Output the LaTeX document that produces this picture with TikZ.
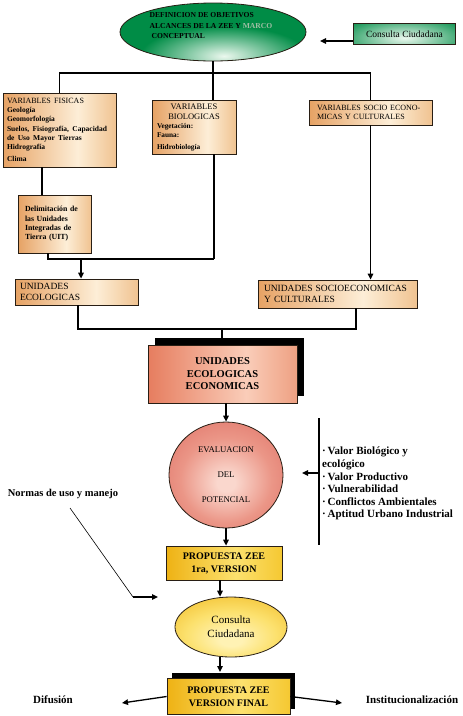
\documentclass[tikz,border=0pt]{standalone}
\usepackage{fontspec}
\setmainfont{Liberation Serif}
\usetikzlibrary{arrows.meta,shapes.geometric,shadows,calc}
\definecolor{gD}{RGB}{0,140,70}
\definecolor{gL}{RGB}{235,248,238}
\definecolor{tanD}{RGB}{230,162,100}
\definecolor{tanL}{RGB}{253,238,215}
\definecolor{tanM}{RGB}{240,195,145}
\definecolor{salD}{RGB}{230,125,95}
\definecolor{salL}{RGB}{250,205,185}
\definecolor{salM}{RGB}{238,160,130}
\definecolor{cirD}{RGB}{218,100,90}
\definecolor{cirM}{RGB}{235,150,135}
\definecolor{cirL}{RGB}{250,215,205}
\definecolor{yelD}{RGB}{238,178,20}
\definecolor{yelL}{RGB}{252,225,110}
\definecolor{yelM}{RGB}{245,200,50}
\definecolor{yelR}{RGB}{255,242,180}
\definecolor{border}{RGB}{40,30,20}
\definecolor{marco}{RGB}{160,190,165}
\pgfdeclarehorizontalshading{tanshade}{100bp}{color(0bp)=(tanD); color(25bp)=(tanD); color(58bp)=(tanL); color(75bp)=(tanM); color(100bp)=(tanM)}
\pgfdeclarehorizontalshading{salshade}{100bp}{color(0bp)=(salD); color(25bp)=(salD); color(58bp)=(salL); color(75bp)=(salM); color(100bp)=(salM)}
\pgfdeclarehorizontalshading{yelshade}{100bp}{color(0bp)=(yelD); color(25bp)=(yelD); color(55bp)=(yelL); color(75bp)=(yelM); color(100bp)=(yelM)}
\pgfdeclareradialshading{cirrad}{\pgfpoint{0bp}{-4bp}}{color(0bp)=(cirL); color(4bp)=(cirL); color(20bp)=(cirM); color(42bp)=(cirD); color(50bp)=(cirD)}
\pgfdeclareradialshading{yelrad}{\pgfpoint{0bp}{-12bp}}{color(0bp)=(yelR); color(5bp)=(yelR); color(20bp)=(yelL); color(42bp)=(yelD); color(50bp)=(yelD)}
\newcommand\fsz[2]{\fontsize{#1}{#2}\selectfont}
\begin{document}
\begin{tikzpicture}[x=1pt,y=-1pt,
  conn/.style={line width=1.3pt,black},
  arr/.style={conn,-{Triangle[length=6pt,width=5.5pt]}},
  thinline/.style={line width=0.6pt,black},
  boxbase/.style={rectangle,draw=border,line width=0.8pt,inner ysep=2pt},
  tanbox/.style={boxbase,shading=tanshade},
  ellbase/.style={ellipse,draw=border,line width=0.8pt,inner sep=0pt},
  bigshadow/.style={drop shadow={shadow xshift=7pt,shadow yshift=7pt,fill=black,opacity=1}}
]
\fill[white] (0,0) rectangle (463,716);
\useasboundingbox (0,0) rectangle (463,716);

% top ellipse: dark green with a light patch at the bottom centre
\begin{scope}
  \clip (213,32) ellipse [x radius=93pt,y radius=29pt];
  \fill[gD] (100,0) rectangle (330,70);
  \shade[inner color=gL,outer color=gD] (224,56) ellipse [x radius=84pt,y radius=30pt];
\end{scope}
\node[ellbase,minimum width=186pt,minimum height=58pt] (def) at (213,32) {};
\node[font=\bfseries\fsz{7.6}{10.5},align=left] (deftxt) at (211,26)
  {DEFINICION DE OBJETIVOS\\ALCANCES DE LA ZEE Y \textcolor{marco}{MARCO}\\\hspace{2pt}CONCEPTUAL};

% consulta ciudadana box
\begin{scope}
  \clip (353.5,23.5) rectangle (455.5,44.5);
  \fill[gD] (353.5,23.5) rectangle (455.5,44.5);
  \shade[inner color=gL,outer color=gD] (404.5,38) ellipse [x radius=75pt,y radius=24pt];
\end{scope}
\node[boxbase,minimum width=102pt,minimum height=21pt,font=\fsz{9.5}{11}] (cc) at (404.5,34) {Consulta Ciudadana};
\coordinate (ccend) at (320,41);
\draw[arr] (cc.west |- ccend) -- (ccend);

% variables boxes
\node[tanbox,minimum width=113pt,minimum height=74pt,text width=105pt,inner xsep=4pt,align=left] (fis) at (59.5,130)
  {\fsz{8}{9.3}VARIABLES FISICAS\\\bfseries\fsz{7.5}{9.3}Geología\\Geomorfología\\Suelos, Fisiografía, Capacidad\\de Uso Mayor Tierras\\Hidrografía\\Clima};
\node[tanbox,minimum width=84pt,minimum height=54pt,text width=74pt,inner xsep=5pt] (bio) at (194,127)
  {{\centering\fsz{8.5}{10}VARIABLES\\BIOLOGICAS\par}\raggedright\bfseries\fsz{7.3}{9}Vegetación:\\Fauna:\\Hidrobiología};
\node[tanbox,minimum width=123pt,minimum height=25pt,text width=107pt,inner xsep=8pt,align=left,font=\fsz{8}{9}] (soc) at (370.5,112.5)
  {VARIABLES SOCIO ECONO-\\MICAS Y CULTURALES};

\coordinate (j0) at (213,73);
\draw[conn] (def.south) -- (j0);
\draw[conn] (fis.north) |- (j0) -| (soc.north);
\draw[conn] (j0) -- (j0 |- bio.north);

% UIT
\node[tanbox,minimum width=73pt,minimum height=58pt,text width=59pt,inner xsep=7pt,align=left,font=\bfseries\fsz{7.8}{9.3}] (uit) at (54.5,224)
  {Delimitación de\\las Unidades\\Integradas de\\Tierra (UIT)};
\draw[conn] ([xshift=-17.5pt]fis.south) -- ([xshift=-17.5pt]fis.south |- uit.north);

% unidades
\node[tanbox,minimum width=123pt,minimum height=26pt,text width=113pt,inner xsep=5pt,align=left,font=\fsz{9.5}{11}] (eco) at (76.5,292)
  {UNIDADES\\ECOLOGICAS};
\node[tanbox,minimum width=159pt,minimum height=28pt,text width=147pt,inner xsep=6pt,align=left,font=\fsz{9.5}{11.5}] (socu) at (337.5,294)
  {UNIDADES SOCIOECONOMICAS\\Y CULTURALES};

\coordinate (j1) at (214,259);
\draw[conn] ([xshift=-6.5pt]uit.south) |- (j1);
\draw[conn] (bio.south -| j1) -- (j1);
\coordinate (j2) at (81,259);
\draw[arr] (j2) -- (j2 |- eco.north);
\draw[arr] (soc.south) -- (soc.south |- socu.north);

% UEE
\node[boxbase,shading=salshade,bigshadow,minimum width=149pt,minimum height=58pt,align=center,font=\bfseries\fsz{10.5}{12.5}] (uee) at (222.5,374)
  {UNIDADES\\ECOLOGICAS\\ECONOMICAS};
\coordinate (j3) at (222,329);
\draw[conn] ([xshift=1.5pt]eco.south) |- (j3);
\draw[conn] ([xshift=18.5pt]socu.south) |- (j3);
\draw[arr] (j3) -- (j3 |- uee.north);

% evaluacion
\node[ellbase,shading=cirrad,minimum width=114pt,minimum height=106pt,align=center,font=\fsz{8.7}{25}] (circ) at (226,475)
  {EVALUACION\\DEL\\POTENCIAL};
\draw[arr] (uee.south -| circ.north) -- (circ.north);

% criteria
\coordinate (v1) at (319,418);
\coordinate (v2) at (319,545);
\draw[conn] (v1) -- (v2);
\coordinate (a1) at (318,473);
\coordinate (a2) at (302,473);
\draw[arr] (a1) -- (a2);
\node[font=\bfseries\fsz{11}{12.6},align=left,anchor=north west,inner sep=0pt] (crit) at (322,447)
  {·\,Valor Biológico y\\ecológico\\·\,Valor Productivo\\·\,Vulnerabilidad\\·\,Conflictos Ambientales\\·\,Aptitud Urbano Industrial};

% propuesta 1
\node[boxbase,shading=yelshade,minimum width=116pt,minimum height=34pt,align=center,font=\bfseries\fsz{10}{13}] (prop1) at (224,563)
  {PROPUESTA ZEE\\1ra, VERSION};
\draw[arr] (circ.south) -- (circ.south |- prop1.north);

% normas
\node[font=\bfseries\fsz{10.5}{12}] (norm) at (63,494) {Normas de uso y manejo};
\coordinate (n1) at (70,508);
\coordinate (n2) at (133,597);
\coordinate (n3) at (158,597);
\draw[thinline] (n1) -- (n2);
\draw[arr] (n2) -- (n3);

% consulta ciudadana ellipse
\node[ellbase,shading=yelrad,minimum width=112pt,minimum height=60pt,align=center,font=\fsz{11}{14}] (cons) at (231,627)
  {Consulta\\Ciudadana};
\draw[arr] ([xshift=-4pt]prop1.south) -- ([xshift=-4pt]prop1.south |- cons.north);

% final
\node[boxbase,shading=yelshade,drop shadow={shadow xshift=5pt,shadow yshift=6pt,fill=black,opacity=1},minimum width=123pt,minimum height=36pt,align=center,font=\bfseries\fsz{10}{13}] (fin) at (228.5,696.5)
  {PROPUESTA ZEE\\VERSION FINAL};
\coordinate (fintop) at (220,672);
\draw[arr] (fintop |- cons.south) -- (fintop);

\node[font=\bfseries\fsz{11}{13}] (dif) at (53,700) {Difusión};
\node[font=\bfseries\fsz{11}{13}] (inst) at (412,700) {Institucionalización};
\coordinate (difend) at (122,703);
\coordinate (instend) at (342,703);
\draw[arr] (fin.west) -- (difend);
\draw[arr] (fin.east) -- (instend);
\end{tikzpicture}
\end{document}
